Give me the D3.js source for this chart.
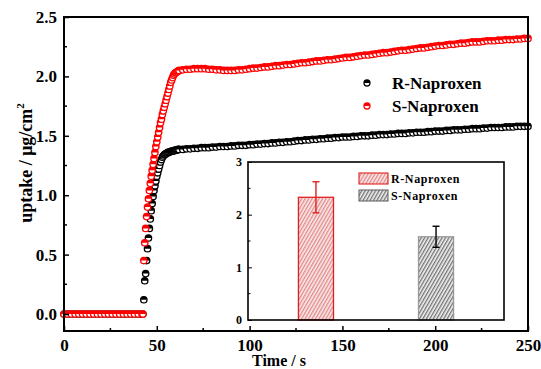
<!DOCTYPE html>
<html><head><meta charset="utf-8">
<script src="https://cdn.jsdelivr.net/npm/d3@7"></script>
<style>
html,body{margin:0;padding:0;background:#fff;}
svg text{font-family:"Liberation Serif","Times New Roman","DejaVu Serif",serif !important;font-weight:bold;}
</style></head>
<body>
<svg id="chart" width="541" height="369"></svg>
<script>
// ---------- data ----------
const times = [
 0,2,4,6,8,10,12,14,16,18,20,22,24,26,28,30,32,34,36,38,40,42,
 42.5,43,43.5,44,44.5,45,45.5,46,46.5,47,47.5,48,48.5,49,49.5,50,50.5,51,51.5,52,
 52.5,53,53.5,54,54.5,55,55.5,56,56.5,57,57.5,58,58.5,59,59.5,60,60.5,61,61.5,62,
 64,66,68,70,72,74,76,78,80,82,84,86,88,90,92,94,96,98,100,
 102,104,106,108,110,112,114,116,118,120,122,124,126,128,130,132,134,136,138,140,142,144,146,148,150,
 152,154,156,158,160,162,164,166,168,170,172,174,176,178,180,182,184,186,188,190,192,194,196,198,200,
 202,204,206,208,210,212,214,216,218,220,222,224,226,228,230,232,234,236,238,240,242,244,246,248,250
];
const uptakeR = [
 0,0,0,0,0,0,0,0,0,0,0,0,0,0,0,0,0,0,0,0,0,0,
 0.00,0.12,0.28,0.34,0.45,0.55,0.64,0.72,0.80,0.87,0.93,0.99,1.04,1.08,1.12,1.16,1.19,1.22,1.25,1.28,
 1.30,1.32,1.33,1.34,1.345,1.35,1.355,1.36,1.36,1.365,1.37,1.37,1.37,1.375,1.375,1.38,1.38,1.38,1.385,1.385,
 1.385,1.39,1.39,1.395,1.395,1.40,1.40,1.40,1.405,1.405,1.41,1.41,1.41,1.415,1.415,1.42,1.42,1.42,1.425,
 1.425,1.43,1.43,1.435,1.435,1.44,1.44,1.445,1.445,1.45,1.45,1.455,1.46,1.46,1.465,1.465,1.47,1.47,1.475,1.475,1.48,1.48,1.485,1.485,1.49,
 1.49,1.49,1.495,1.495,1.50,1.50,1.50,1.505,1.505,1.51,1.51,1.51,1.515,1.515,1.52,1.52,1.52,1.525,1.525,1.53,1.53,1.53,1.535,1.535,1.54,
 1.54,1.54,1.545,1.545,1.55,1.55,1.55,1.555,1.555,1.56,1.56,1.56,1.565,1.565,1.57,1.57,1.57,1.57,1.575,1.575,1.575,1.58,1.58,1.58,1.58
];
const uptakeS = [
 0,0,0,0,0,0,0,0,0,0,0,0,0,0,0,0,0,0,0,0,0,0,
 0.00,0.45,0.60,0.72,0.82,0.90,0.97,1.04,1.10,1.16,1.21,1.26,1.31,1.36,1.41,1.45,1.49,1.53,1.57,1.61,
 1.64,1.68,1.71,1.74,1.77,1.80,1.83,1.86,1.89,1.92,1.95,1.97,1.99,2.01,2.02,2.03,2.035,2.04,2.045,2.05,
 2.055,2.06,2.06,2.065,2.065,2.065,2.065,2.06,2.06,2.055,2.055,2.05,2.05,2.05,2.05,2.055,2.055,2.06,2.065,
 2.07,2.07,2.075,2.08,2.08,2.085,2.09,2.09,2.095,2.10,2.10,2.105,2.11,2.115,2.115,2.12,2.125,2.13,2.13,2.135,2.14,2.14,2.145,2.15,2.155,
 2.16,2.16,2.165,2.17,2.175,2.18,2.18,2.185,2.19,2.195,2.20,2.20,2.205,2.21,2.215,2.22,2.22,2.225,2.23,2.235,2.24,2.24,2.245,2.25,2.255,
 2.26,2.26,2.265,2.27,2.27,2.275,2.28,2.28,2.285,2.29,2.29,2.29,2.295,2.30,2.30,2.30,2.305,2.305,2.31,2.31,2.31,2.315,2.315,2.32,2.32
];
const seriesNames = ["R-Naproxen", "S-Naproxen"];
const seriesColors = ["#000000", "#ff0000"];
const xTicks = [0, 50, 100, 150, 200, 250];
const xMinorTicks = [25, 75, 125, 175, 225];
const yTicks = [0.0, 0.5, 1.0, 1.5, 2.0, 2.5];
const yMinorTicks = [0.25, 0.75, 1.25, 1.75, 2.25];
const xTitle = "Time / s";

// inset bar chart
const barCategories = ["R-Naproxen", "S-Naproxen"];
const barValues = [2.33, 1.58];
const barErrors = [0.295, 0.20];
const insetYTicks = [0, 1, 2, 3];
const insetYMinor = [0.5, 1.5, 2.5];

// ---------- chart ----------
const svg = d3.select("#chart");
const x = d3.scaleLinear().domain([0, 250]).range([64, 528]);
const y = d3.scaleLinear().domain([-0.143, 2.5]).range([331, 17]);

const defs = svg.append("defs");
function hatch(id, bg, line, angle) {
  const p = defs.append("pattern").attr("id", id).attr("patternUnits", "userSpaceOnUse")
    .attr("width", 3).attr("height", 3).attr("patternTransform", `rotate(${angle})`);
  p.append("rect").attr("width", 3).attr("height", 3).attr("fill", bg);
  p.append("line").attr("x1", 0.75).attr("x2", 0.75).attr("y1", 0).attr("y2", 3)
    .attr("stroke", line).attr("stroke-width", 0.9);
}
hatch("hRed", "#fbeaea", "#d25a5a", 30);
hatch("hGray", "#f2f2f2", "#333333", 30);

// markers
function drawSeries(vals, color) {
  const g = svg.append("g");
  const pts = times.map((t, i) => [x(t), y(vals[i])]);
  const r = 3.2;
  const m = g.selectAll("g").data(pts).join("g").attr("transform", d => `translate(${d[0]},${d[1]})`);
  m.append("circle").attr("r", r).attr("fill", "#fff").attr("stroke", color).attr("stroke-width", 1.3);
  m.append("path").attr("d", `M${-r},0A${r},${r} 0 0 1 ${r},0Z`).attr("fill", color);
}
drawSeries(uptakeR, seriesColors[0]);
drawSeries(uptakeS, seriesColors[1]);

// axes
const xAxis = d3.axisBottom(x).tickValues(xTicks).tickSizeInner(-5).tickSizeOuter(0).tickPadding(8).tickFormat(d3.format("d"));
const gx = svg.append("g").attr("transform", "translate(0,331)").call(xAxis);
gx.selectAll(".tick line").attr("stroke-width", 1.5);
gx.selectAll("text").attr("font-size", 17).attr("fill", "#000");
svg.append("g").selectAll("line").data(xMinorTicks).join("line")
  .attr("x1", d => x(d)).attr("x2", d => x(d)).attr("y1", 331).attr("y2", 328).attr("stroke", "#000").attr("stroke-width", 1.5);

const yAxis = d3.axisLeft(y).tickValues(yTicks).tickSizeInner(-5).tickSizeOuter(0).tickPadding(7).tickFormat(d3.format(".1f"));
const gy = svg.append("g").attr("transform", "translate(64,0)").call(yAxis);
gy.selectAll(".tick line").attr("stroke-width", 1.5);
gy.selectAll("text").attr("font-size", 17).attr("fill", "#000");
svg.append("g").selectAll("line").data(yMinorTicks).join("line")
  .attr("x1", 64).attr("x2", 67).attr("y1", d => y(d)).attr("y2", d => y(d)).attr("stroke", "#000").attr("stroke-width", 1.5);
svg.selectAll(".domain").remove();

svg.append("rect").attr("x", 64).attr("y", 17).attr("width", 464).attr("height", 314)
  .attr("fill", "none").attr("stroke", "#000").attr("stroke-width", 2);

// axis titles
svg.append("text").attr("x", 279).attr("y", 366).attr("text-anchor", "middle")
  .attr("font-size", 16).text(xTitle);
const yl = svg.append("text").attr("transform", "translate(32,163) rotate(-90)").attr("text-anchor", "middle")
  .attr("font-size", 18);
yl.append("tspan").text("uptake / \u03bcg/cm");
yl.append("tspan").attr("font-size", 11).attr("dy", -8).text("2");

// main legend
seriesNames.forEach((n, i) => {
  const ly = 83 + i * 23;
  const g = svg.append("g").attr("transform", `translate(367,${ly})`);
  g.append("circle").attr("r", 3).attr("fill", "#fff").attr("stroke", seriesColors[i]).attr("stroke-width", 1.3);
  g.append("path").attr("d", "M-3,0A3,3 0 0 1 3,0Z").attr("fill", seriesColors[i]);
  svg.append("text").attr("x", 392).attr("y", ly + 6).attr("font-size", 17).text(n);
});

// ---------- inset ----------
const ix0 = 248, ix1 = 504, iy0 = 320, iy1 = 162;
svg.append("rect").attr("x", ix0).attr("y", iy1).attr("width", ix1 - ix0).attr("height", iy0 - iy1)
  .attr("fill", "#fff").attr("stroke", "none");
const xi = d3.scaleBand().domain(barCategories).range([ix0, ix1]).paddingInner(0.708).paddingOuter(0.42);
const yi = d3.scaleLinear().domain([0, 3]).range([iy0, iy1]);
const barFill = ["url(#hRed)", "url(#hGray)"];
const barStroke = ["#e02020", "#999999"];
const errColor = ["#e02020", "#000000"];

svg.append("g").selectAll("rect").data(barValues).join("rect")
  .attr("x", (d, i) => xi(barCategories[i])).attr("width", xi.bandwidth())
  .attr("y", d => yi(d)).attr("height", d => yi(0) - yi(d))
  .attr("fill", (d, i) => barFill[i]).attr("stroke", (d, i) => barStroke[i]).attr("stroke-width", 1.3);

barValues.forEach((v, i) => {
  const cx = xi(barCategories[i]) + xi.bandwidth() / 2;
  const g = svg.append("g").attr("stroke", errColor[i]).attr("stroke-width", 1.4);
  g.append("line").attr("x1", cx).attr("x2", cx).attr("y1", yi(v + barErrors[i])).attr("y2", yi(v - barErrors[i]));
  [v + barErrors[i], v - barErrors[i]].forEach(e =>
    g.append("line").attr("x1", cx - 3.5).attr("x2", cx + 3.5).attr("y1", yi(e)).attr("y2", yi(e)));
});

const iyAxis = d3.axisLeft(yi).tickValues(insetYTicks).tickSizeInner(-4).tickSizeOuter(0).tickPadding(6).tickFormat(d3.format("d"));
const giy = svg.append("g").attr("transform", `translate(${ix0},0)`).call(iyAxis);
giy.select(".domain").remove();
giy.selectAll("text").attr("font-size", 12).attr("fill", "#000");
svg.append("g").selectAll("line").data(insetYMinor).join("line")
  .attr("x1", ix0).attr("x2", ix0 + 2.5).attr("y1", d => yi(d)).attr("y2", d => yi(d)).attr("stroke", "#000");
svg.append("rect").attr("x", ix0).attr("y", iy1).attr("width", ix1 - ix0).attr("height", iy0 - iy1)
  .attr("fill", "none").attr("stroke", "#000").attr("stroke-width", 1.6);

// inset legend
barCategories.forEach((n, i) => {
  const ly = 173 + i * 17;
  svg.append("rect").attr("x", 359).attr("y", ly).attr("width", 29).attr("height", 11)
    .attr("fill", barFill[i]).attr("stroke", barStroke[i] === "#999999" ? "#666" : barStroke[i]).attr("stroke-width", 1.1);
  svg.append("text").attr("x", 391).attr("y", ly + 9.5).attr("font-size", 12)
    .attr("letter-spacing", 0.6).text(n);
});
</script>
</body></html>
